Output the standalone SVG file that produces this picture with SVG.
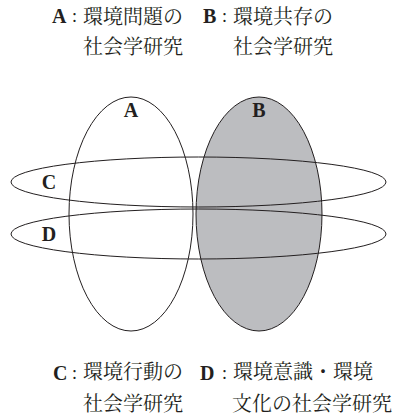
<svg xmlns="http://www.w3.org/2000/svg" width="401" height="420" viewBox="0 0 401 420">
<style>
.lat{font-family:"Liberation Serif","Times New Roman",serif;font-weight:bold;font-size:20px;fill:#231f20}
.col{font-family:"Liberation Serif",serif;font-size:18px;fill:#231f20}
.jp{font-family:"Noto Serif CJK JP","Noto Sans CJK JP",serif;font-size:20px;fill:#231f20}
.e{stroke:#231f20;stroke-width:1}
</style>
<rect width="401" height="420" fill="#ffffff"/>
<g id="nodeA"><ellipse class="e" cx="131" cy="214" rx="62" ry="117" fill="#ffffff"/></g>
<g id="nodeB"><ellipse class="e" cx="259" cy="214" rx="63" ry="117" fill="#bcbdc0"/></g>
<g id="nodeC"><ellipse class="e" cx="198.5" cy="182" rx="187.5" ry="25" fill="none"/></g>
<g id="nodeD"><ellipse class="e" cx="198.5" cy="234" rx="187.5" ry="25" fill="none"/></g>
<g id="connectors"></g>
<g id="labels">
<text class="lat" x="131" y="117" text-anchor="middle">A</text>
<text class="lat" x="259" y="117" text-anchor="middle">B</text>
<text class="lat" x="49" y="189" text-anchor="middle">C</text>
<text class="lat" x="49" y="241" text-anchor="middle">D</text>
</g>
<g id="legend">
<text class="lat" x="52" y="23">A</text><text class="col" x="72" y="22">:</text>
<text class="jp" x="83" y="23.5">環境問題の</text>
<text class="jp" x="83" y="54">社会学研究</text>
<text class="lat" x="203" y="23">B</text><text class="col" x="222" y="22">:</text>
<text class="jp" x="233" y="23.5">環境共存の</text>
<text class="jp" x="233" y="54">社会学研究</text>
<text class="lat" x="53" y="380">C</text><text class="col" x="72" y="379">:</text>
<text class="jp" x="83" y="379">環境行動の</text>
<text class="jp" x="83" y="411">社会学研究</text>
<text class="lat" x="200" y="380">D</text><text class="col" x="222" y="379">:</text>
<text class="jp" x="233" y="379">環境意識・環境</text>
<text class="jp" x="232" y="411">文化の社会学研究</text>
</g>
</svg>
